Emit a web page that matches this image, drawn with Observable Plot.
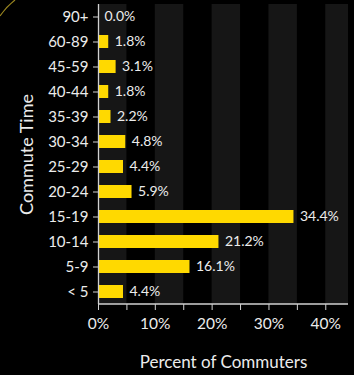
<!DOCTYPE html>
<html>
<head>
<meta charset="utf-8">
<script src="https://cdn.jsdelivr.net/npm/d3@7"></script>
<script src="https://cdn.jsdelivr.net/npm/@observablehq/plot@0.6"></script>
<style>
  html, body { margin: 0; padding: 0; background: #000; }
  #wrap { position: relative; width: 354px; height: 375px; overflow: hidden; background: #000; }
  #deco { position: absolute; left: 0; top: 0; }
</style>
</head>
<body>
<div id="wrap"></div>
<script>
const categories = ["< 5", "5-9", "10-14", "15-19", "20-24", "25-29", "30-34", "35-39", "40-44", "45-59", "60-89", "90+"];
const percents = [4.4, 16.1, 21.2, 34.4, 5.9, 4.4, 4.8, 2.2, 1.8, 3.1, 1.8, 0.0];
const xTicks = [0, 5, 10, 15, 20, 25, 30, 35, 40];
const bandStarts = [0, 10, 20, 30, 40];

const data = categories.map((c, i) => ({category: c, pct: percents[i]}));
const bands = bandStarts.map(b => ({x1: b, x2: Math.min(b + 5, 44)}));

const font = "Lato, 'Open Sans', sans-serif";
const textColor = "#ececec";
const axisColor = "#d0d0d0";

// bottom axis line drawn through the x scale
const bottomLine = (index, scales, values, dimensions) => {
  const {height, marginBottom} = dimensions;
  const y = height - marginBottom;
  const [d0, d1] = scales.scales.x.domain;
  const line = d3.create("svg:line")
    .attr("x1", scales.x(d0)).attr("x2", scales.x(d1))
    .attr("y1", y).attr("y2", y)
    .attr("stroke", axisColor).attr("stroke-width", 1.3);
  return line.node();
};

const chart = Plot.plot({
  width: 354,
  height: 375,
  marginLeft: 98,
  marginRight: 6,
  marginTop: 4,
  marginBottom: 71,
  style: {background: "#000", color: textColor, fontFamily: font},
  x: {domain: [0, 44]},
  y: {domain: categories.slice().reverse(), paddingInner: 0.48, paddingOuter: 0.24},
  marks: [
    Plot.rect(bands, {x1: "x1", x2: "x2", fill: "#161616"}),
    Plot.barX(data, {x: "pct", y: "category", fill: "#ffd900"}),
    Plot.text(data, {x: "pct", y: "category", text: d => d.pct.toFixed(1) + "%", textAnchor: "start", dx: 6, fill: textColor, fontSize: 14}),
    Plot.ruleX([0], {stroke: axisColor, strokeWidth: 1.3}),
    bottomLine,
    Plot.axisY({tickSize: 5, tickPadding: 5, fontSize: 15, label: null, stroke: axisColor, fill: textColor}),
    Plot.axisX({ticks: xTicks, tickSize: 6, tickPadding: 7, fontSize: 15.5, label: null, stroke: axisColor, fill: textColor,
      tickFormat: d => d % 10 === 0 ? d + "%" : ""}),
    Plot.text(["Percent of Commuters"], {frameAnchor: "bottom", textAnchor: "middle", dy: 63, fontSize: 17, fill: textColor}),
    Plot.text(["Commute Time"], {frameAnchor: "left", textAnchor: "middle", dx: -71, rotate: -90, fontSize: 18, fill: textColor})
  ]
});
const wrap = document.getElementById("wrap");
wrap.appendChild(chart);
wrap.insertAdjacentHTML("beforeend",
  '<svg id="deco" width="30" height="30"><path d="M0,16 Q6,7 15,0" fill="none" stroke="#9a8620" stroke-width="1.2"/></svg>');
</script>
</body>
</html>
